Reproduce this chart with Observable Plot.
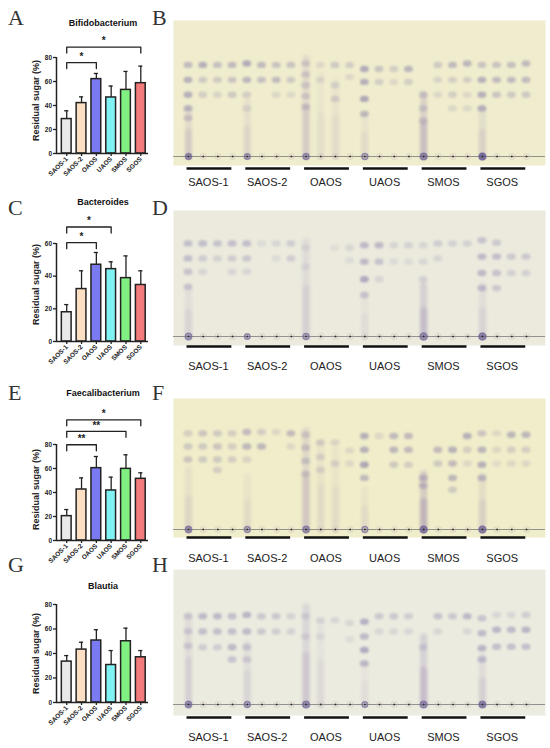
<!DOCTYPE html>
<html><head><meta charset="utf-8">
<script src="https://cdn.jsdelivr.net/npm/d3@7"></script>
<script src="https://cdn.jsdelivr.net/npm/@observablehq/plot@0.6"></script>
<style>
html,body{margin:0;padding:0;background:#fff;}
#root{position:relative;width:550px;height:748px;overflow:hidden;font-family:"Liberation Sans",Arial,sans-serif;}
#root svg{position:absolute;overflow:visible;background:transparent;}
.letter{position:absolute;font-family:"Liberation Serif","Times New Roman",serif;font-size:22px;line-height:22px;color:#333;}
.title{position:absolute;font-weight:bold;font-size:9px;line-height:9px;color:#111;transform:translateX(-50%);white-space:nowrap;}
</style></head><body><div id="root"></div>
<script>
// ---------- data ----------
const groups = ["SAOS-1","SAOS-2","OAOS","UAOS","SMOS","SGOS"];
const barColors = ["#e9e9e9","#fddfc3","#7a7af2","#80f2f4","#80f082","#f47b7b"];
const bacteria = ["Bifidobacterium","Bacteroides","Faecalibacterium","Blautia"];

const bifidoMean = [28.7, 42, 62, 46.7, 53, 58.6];
const bifidoSD   = [6.9, 5.2, 4.7, 9.5, 15.4, 14.2];
const bacteroMean = [17.9, 32.1, 47, 44.3, 38.8, 34.6];
const bacteroSD   = [4.7, 11.2, 7.5, 4.5, 13.6, 8.7];
const faecaliMean = [20.3, 42.5, 60.3, 41.7, 59.7, 51.4];
const faecaliSD   = [5.5, 9.7, 9.7, 11.1, 11.7, 5.0];
const blautiaMean = [33.4, 43.2, 50.6, 30.6, 50, 36.9];
const blautiaSD   = [4.9, 6.0, 8.8, 11.8, 10.7, 5.5];

const ticks80 = [0, 20, 40, 60, 80];
const ticks60 = [0, 20, 40, 60];

const bifidoComps = [
  {from: "SAOS-1", to: "OAOS", label: "*", level: 75.8},
  {from: "SAOS-1", to: "SGOS", label: "*", level: 88.7}
];
const bacteroComps = [
  {from: "SAOS-1", to: "OAOS", label: "*", level: 60.5},
  {from: "SAOS-1", to: "UAOS", label: "*", level: 70.1}
];
const faecaliComps = [
  {from: "SAOS-1", to: "OAOS", label: "**", level: 79.8},
  {from: "SAOS-1", to: "SMOS", label: "**", level: 91},
  {from: "SAOS-1", to: "SGOS", label: "*", level: 100.6}
];
const blautiaComps = [];

// TLC plates: spots [lane, Rf, intensity], smears [lane, topRf, intensity], origin spots [lane, radius, intensity]
const spotsB = [[1,.67,.5],[1,.56,.6],[1,.45,.6],[1,.35,.5],[1,.28,.35],[2,.67,.6],[2,.56,.35],[2,.45,.3],[3,.67,.45],[3,.56,.35],[3,.45,.25],[4,.67,.5],[4,.56,.4],[4,.45,.35],
 [5,.68,.65],[5,.56,.55],[5,.45,.3],[5,.35,.2],[6,.67,.5],[6,.56,.45],[7,.67,.4],[7,.56,.5],[7,.45,.2],[8,.67,.4],[8,.56,.35],[8,.45,.2],
 [9,.68,.3],[9,.6,.3],[9,.52,.3],[9,.44,.3],[9,.36,.3],[10,.67,.2],[10,.56,.2],[11,.67,.35],[11,.52,.25],[11,.42,.3],[12,.67,.3],[12,.58,.2],
 [13,.64,.65],[13,.545,.6],[13,.42,.7],[13,.31,.5],[14,.64,.4],[14,.545,.3],[15,.64,.3],[15,.545,.2],[16,.64,.55],[16,.545,.3],
 [17,.45,.3],[17,.35,.3],[17,.26,.35],[18,.67,.35],[18,.56,.25],[18,.45,.2],[19,.67,.5],[19,.56,.3],[19,.45,.3],[19,.35,.2],[20,.68,.55],[20,.56,.3],[20,.45,.2],[20,.35,.2],
 [21,.67,.4],[21,.56,.6],[21,.45,.6],[21,.35,.55],[22,.67,.4],[22,.56,.5],[22,.45,.4],[23,.67,.45],[23,.56,.5],[23,.45,.35],[24,.68,.5],[24,.56,.5],[24,.45,.35]];
const smearsB = [[1,.35,.3],[5,.4,.2],[9,.72,.3],[10,.6,.12],[11,.55,.15],[13,.3,.15],[17,.45,.45],[21,.35,.25]];
const originB = [[1,4,.6],[5,3.5,.4],[9,4,.45],[13,4,.3],[17,5,.65],[21,5.5,.95]];

const spotsD = [[1,.735,.45],[1,.616,.45],[1,.51,.4],[1,.39,.35],[2,.735,.45],[2,.616,.3],[2,.51,.2],[3,.735,.4],[3,.616,.25],[4,.735,.45],[4,.616,.3],[4,.51,.2],
 [5,.735,.45],[5,.616,.35],[5,.51,.2],[6,.735,.15],[7,.735,.2],[7,.616,.15],[8,.735,.3],[8,.616,.3],
 [9,.7,.15],[9,.55,.15],[11,.7,.12],[12,.7,.2],[12,.6,.15],
 [13,.72,.5],[13,.59,.5],[13,.45,.65],[13,.325,.4],[14,.72,.5],[14,.59,.4],[14,.45,.2],[15,.72,.2],[15,.59,.15],[16,.72,.25],[16,.59,.15],
 [17,.72,.2],[17,.59,.2],[17,.45,.25],[18,.735,.3],[18,.616,.2],[19,.735,.25],[20,.735,.25],
 [21,.76,.4],[21,.63,.5],[21,.5,.5],[21,.38,.45],[22,.74,.35],[22,.63,.45],[22,.5,.4],[22,.38,.35],[23,.63,.35],[23,.5,.25],[24,.63,.35],[24,.5,.25]];
const smearsD = [[1,.38,.2],[9,.75,.25],[13,.3,.12],[17,.4,.45],[21,.4,.2]];
const originD = [[1,4,.45],[5,3,.35],[9,3.5,.35],[17,5,.55],[21,5,.75]];

const spotsF = [[1,.73,.3],[1,.63,.35],[1,.53,.4],[2,.73,.4],[2,.63,.35],[2,.53,.35],[3,.73,.35],[3,.63,.4],[3,.53,.35],[3,.45,.3],[4,.73,.3],[4,.63,.3],[4,.53,.3],
 [5,.74,.5],[5,.63,.55],[5,.53,.25],[6,.74,.3],[6,.63,.55],[7,.74,.2],[8,.73,.5],[8,.63,.2],
 [9,.72,.3],[9,.62,.35],[9,.52,.35],[9,.42,.35],[10,.66,.3],[10,.55,.25],[10,.45,.25],[11,.66,.25],[11,.5,.25],[12,.6,.2],[12,.5,.2],
 [13,.71,.6],[13,.605,.6],[13,.49,.7],[13,.39,.5],[14,.71,.2],[15,.71,.5],[15,.605,.55],[15,.49,.35],[16,.71,.5],[16,.605,.5],[16,.49,.3],
 [17,.39,.45],[17,.33,.4],[18,.605,.5],[18,.5,.35],[19,.605,.6],[19,.5,.5],[19,.39,.55],[19,.3,.35],[20,.71,.6],[20,.605,.3],[20,.5,.2],
 [21,.73,.4],[21,.605,.55],[21,.49,.6],[21,.39,.5],[22,.73,.2],[22,.605,.2],[22,.5,.15],[23,.72,.55],[23,.605,.3],[23,.5,.2],[24,.72,.55],[24,.605,.3],[24,.5,.2]];
const smearsF = [[1,.45,.2],[5,.4,.15],[9,.75,.35],[10,.65,.15],[11,.6,.15],[13,.3,.15],[17,.42,.55],[21,.4,.25]];
const originF = [[1,4,.6],[5,3.5,.35],[9,4,.55],[13,3.5,.25],[17,5,.75],[21,5,.8]];

const spotsH = [[1,.65,.3],[1,.54,.3],[1,.43,.3],[2,.65,.5],[2,.537,.45],[2,.42,.3],[3,.65,.5],[3,.537,.45],[3,.42,.3],[4,.65,.45],[4,.537,.45],[4,.42,.5],[4,.33,.4],
 [5,.66,.55],[5,.537,.5],[5,.42,.35],[5,.33,.3],[6,.65,.35],[6,.537,.35],[7,.65,.35],[7,.537,.3],[8,.65,.25],[8,.537,.25],
 [9,.65,.2],[9,.5,.2],[10,.62,.2],[10,.5,.15],[11,.62,.2],[12,.6,.2],[12,.48,.15],
 [13,.61,.6],[13,.5,.5],[13,.4,.65],[13,.3,.5],[14,.65,.35],[14,.537,.2],[15,.65,.35],[15,.537,.2],[16,.65,.3],[16,.537,.2],
 [17,.42,.25],[18,.65,.4],[18,.537,.2],[19,.65,.35],[20,.65,.5],[20,.537,.2],
 [21,.635,.4],[21,.525,.5],[21,.413,.55],[21,.33,.45],[22,.66,.2],[22,.55,.55],[22,.425,.45],[23,.66,.2],[23,.55,.5],[23,.425,.45],[24,.66,.3],[24,.55,.55],[24,.425,.45]];
const smearsH = [[1,.65,.25],[5,.45,.2],[9,.72,.35],[10,.6,.15],[13,.3,.12],[17,.5,.45],[21,.35,.25]];
const originH = [[1,4.5,.6],[5,4,.4],[9,5,.6],[13,3.5,.25],[17,5,.55],[21,5,.75]];

const lanes = d3.range(1, 25);

// ---------- rendering ----------
const root = document.getElementById("root");
const FONT = "Liberation Sans, Arial, sans-serif";

function addDiv(cls, text, left, top) {
  const d = document.createElement("div");
  d.className = cls; d.textContent = text;
  d.style.left = left + "px"; d.style.top = top + "px";
  root.appendChild(d);
}

function barPanel({means, sds, max, ticks, comps, top, height, marginTop, marginBottom, labelDy}) {
  const data = groups.map((g, i) => ({i, group: g, mean: means[i], hi: means[i] + sds[i], color: barColors[i]}));
  const idx = g => groups.indexOf(g);
  const xDomain = [-0.69, 5.52];
  const plotH = height - marginTop - marginBottom;
  const drop = 6 * max / plotH;
  const bracketPts = comps.flatMap((c, k) => [
    {k, x: idx(c.from), y: c.level - drop},
    {k, x: idx(c.from), y: c.level},
    {k, x: idx(c.to), y: c.level},
    {k, x: idx(c.to), y: c.level - drop}
  ]);
  const half = 0.33, cap = 0.14;
  const svg = Plot.plot({
    width: 165, height, marginLeft: 56, marginRight: 17, marginTop, marginBottom,
    style: {fontFamily: FONT, fontWeight: "bold", color: "#222", background: "transparent", overflow: "visible"},
    x: {domain: xDomain},
    y: {domain: [0, max]},
    marks: [
      Plot.ruleX(data, {x: "i", y1: "mean", y2: "hi", stroke: "#222", strokeWidth: 1.3}),
      Plot.ruleY(data, {x1: d => d.i - cap, x2: d => d.i + cap, y: "hi", stroke: "#222", strokeWidth: 1.3}),
      Plot.rectY(data, {x1: d => d.i - half, x2: d => d.i + half, y1: 0, y2: "mean", fill: "color", stroke: "#222", strokeWidth: 1.5}),
      Plot.ruleX([xDomain[0]], {stroke: "#222", strokeWidth: 1.5}),
      Plot.ruleY([0], {stroke: "#222", strokeWidth: 1.5}),
      Plot.axisY({ticks, tickSize: 3, tickPadding: 1.5, fontSize: 6.5, fontWeight: "bold", strokeWidth: 1.3, label: null}),
      Plot.axisX({ticks: d3.range(groups.length), tickFormat: i => groups[i], tickRotate: -45, tickSize: 3, tickPadding: 1.5, fontSize: 6.5, fontWeight: "bold", strokeWidth: 1.3, label: null}),
      Plot.line(bracketPts, {x: "x", y: "y", z: "k", stroke: "#222", strokeWidth: 1.3}),
      Plot.text(comps, {x: c => (idx(c.from) + idx(c.to)) / 2, y: "level", text: "label", dy: -6, fontSize: 10, fontWeight: "bold", fill: "#222"}),
      Plot.text(["Residual sugar (%)"], {frameAnchor: "left", textAnchor: "middle", rotate: -90, dx: -20.5, dy: labelDy, fontSize: 9, fontWeight: "bold", fill: "#222"})
    ]
  });
  svg.style.left = "0px"; svg.style.top = top + "px";
  root.appendChild(svg);
}

function tlcPanel({spots, smears, origin, top, height, plateH, base, barDy, labelDy, fill}) {
  const spotData = spots.map(([lane, rf, w]) => ({lane, rf, w}));
  const smearData = smears.map(([lane, rf, w]) => ({lane, rf, w}));
  const originData = origin.map(([lane, r, w]) => ({lane, r, w}));
  const groupData = groups.map((g, k) => ({name: g, first: 4 * k + 1, last: 4 * k + 4}));
  const hw = 0.3, hh = 3.2 / base;
  const svg = Plot.plot({
    width: 372, height, marginLeft: 0, marginRight: 0, marginTop: 0, marginBottom: height - plateH,
    style: {fontFamily: FONT, background: "transparent", overflow: "visible"},
    x: {domain: [1, 24], range: [15, 353], axis: null},
    y: {domain: [0, 1], range: [base, 0], axis: null},
    marks: [
      Plot.frame({fill, stroke: "none"}),
      Plot.ruleX(smearData, {x: "lane", y1: 0, y2: "rf", stroke: "#8a78ad", strokeWidth: 7, strokeOpacity: d => d.w * 0.5, strokeLinecap: "round", imageFilter: "blur(1.5px)"}),
      Plot.ruleX(smearData, {x: "lane", y1: 0, y2: d => d.rf * 0.5, stroke: "#8a6fa5", strokeWidth: 7, strokeOpacity: d => d.w * 0.45, strokeLinecap: "round", imageFilter: "blur(1.5px)"}),
      Plot.rect(spotData, {x1: d => d.lane - hw, x2: d => d.lane + hw, y1: d => d.rf - hh, y2: d => d.rf + hh, rx: 4, fill: "#6c5f9e", fillOpacity: d => d.w * 0.7, imageFilter: "blur(0.9px)"}),
      Plot.ruleY([0], {stroke: "#7a7a7a", strokeWidth: 0.8}),
      Plot.dot(lanes, {x: d => d, y: 0, r: 3, fill: "none", stroke: "#c9b7b7", strokeOpacity: 0.6, strokeWidth: 0.8}),
      Plot.dot(originData, {x: "lane", y: 0, r: "r", fill: "#5a4f8c", fillOpacity: d => d.w * 0.8, stroke: "#6b5f95", strokeOpacity: 0.6, imageFilter: "blur(0.4px)"}),
      Plot.dot(lanes, {x: d => d, y: 0, r: 1, fill: "#333"}),
      Plot.ruleY(groupData, {x1: d => d.first - 0.1, x2: d => d.last - 0.05, y: 0, dy: barDy, stroke: "#111", strokeWidth: 2.5}),
      Plot.text(groupData, {x: d => (d.first + d.last) / 2 - 0.15, y: 0, dy: labelDy, text: "name", fontSize: 11, fill: "#222"})
    ]
  });
  svg.style.left = "173px"; svg.style.top = top + "px";
  root.appendChild(svg);
}

barPanel({means: bifidoMean, sds: bifidoSD, max: 80, ticks: ticks80, comps: bifidoComps, top: 0, height: 190, marginTop: 57, marginBottom: 37, labelDy: -5});
barPanel({means: bacteroMean, sds: bacteroSD, max: 60, ticks: ticks60, comps: bacteroComps, top: 190, height: 190, marginTop: 53, marginBottom: 39, labelDy: -8});
barPanel({means: faecaliMean, sds: faecaliSD, max: 80, ticks: ticks80, comps: faecaliComps, top: 380, height: 200, marginTop: 64, marginBottom: 40, labelDy: -3});
barPanel({means: blautiaMean, sds: blautiaSD, max: 80, ticks: ticks80, comps: blautiaComps, top: 560, height: 188, marginTop: 44, marginBottom: 46, labelDy: 0});

tlcPanel({spots: spotsB, smears: smearsB, origin: originB, top: 20, height: 175, plateH: 145, base: 136, barDy: 12, labelDy: 26, fill: "#f0edce"});
tlcPanel({spots: spotsD, smears: smearsD, origin: originD, top: 210, height: 168, plateH: 135, base: 126, barDy: 10, labelDy: 30, fill: "#ebeadd"});
tlcPanel({spots: spotsF, smears: smearsF, origin: originF, top: 398, height: 172, plateH: 139, base: 131, barDy: 8, labelDy: 29, fill: "#f0edca"});
tlcPanel({spots: spotsH, smears: smearsH, origin: originH, top: 569, height: 179, plateH: 146, base: 135, barDy: 13, labelDy: 33, fill: "#ecebdf"});

// titles and panel letters
const titleCenters = [23, 202.7, 393.3, 586.7];
bacteria.forEach((b, k) => addDiv("title", b, 103, titleCenters[k] - 4.4));
const letterRows = [["A","B",25],["C","D",215],["E","F",400],["G","H",572]];
letterRows.forEach(([l, r, base]) => { addDiv("letter", l, 8, base - 18.4); addDiv("letter", r, 152, base - 18.4); });
</script></body></html>
